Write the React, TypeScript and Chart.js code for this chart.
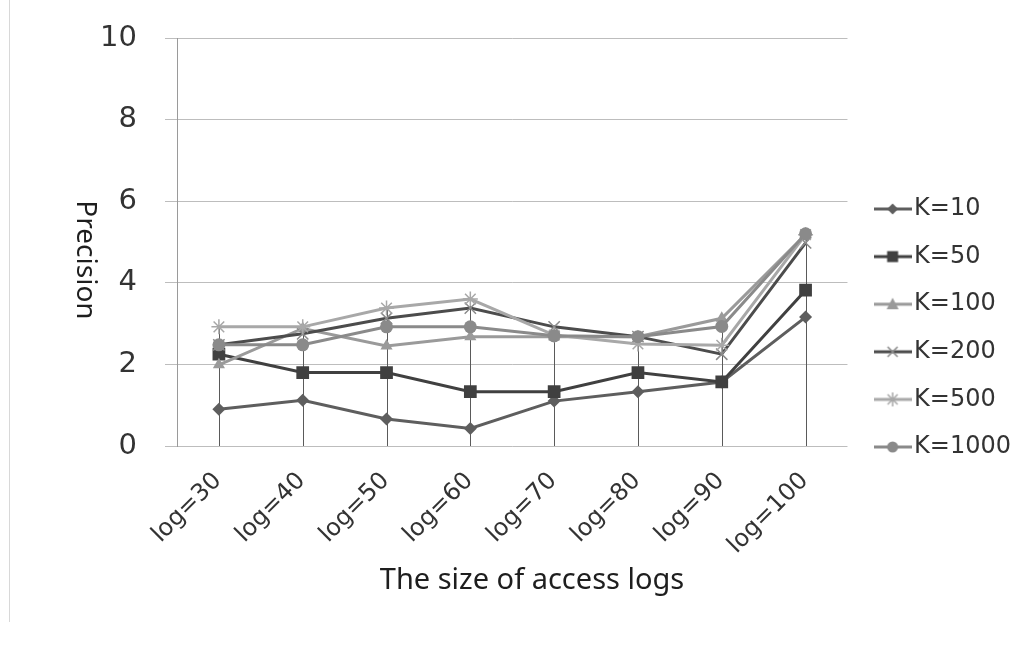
import React, { useEffect, useRef } from 'react';
import { Chart, registerables } from 'chart.js';

Chart.register(...registerables);

// ---- data ----
const categories = ['log=30', 'log=40', 'log=50', 'log=60', 'log=70', 'log=80', 'log=90', 'log=100'];
const seriesNames = ['K=10', 'K=50', 'K=100', 'K=200', 'K=500', 'K=1000'];
const k10 = [0.9, 1.12, 0.66, 0.43, 1.1, 1.33, 1.57, 3.16];
const k50 = [2.25, 1.8, 1.8, 1.33, 1.33, 1.8, 1.57, 3.82];
const k100 = [1.99, 2.88, 2.45, 2.68, 2.68, 2.68, 3.13, 5.18];
const k200 = [2.48, 2.75, 3.13, 3.38, 2.92, 2.68, 2.25, 4.98];
const k500 = [2.92, 2.92, 3.38, 3.6, 2.72, 2.5, 2.47, 5.18];
const k1000 = [2.48, 2.48, 2.92, 2.92, 2.7, 2.68, 2.93, 5.2];
const seriesValues = [k10, k50, k100, k200, k500, k1000];
const yMin = 0;
const yMax = 10;
const yStep = 2;

// ---- styles ----
const lineColors = ['#5e5e5e', '#404040', '#9a9a9a', '#4c4c4c', '#a8a8a8', '#8a8a8a'];
const markerColors = ['#5e5e5e', '#404040', '#9a9a9a', '#8a8a8a', '#a8a8a8', '#8a8a8a'];
const pointStyles = ['rectRot', 'rect', 'triangle', 'crossRot', 'star', 'circle'];
const pointRadii = [6.5, 9, 7, 8, 7.5, 6.5];

function makeLegendImage(i: number): HTMLCanvasElement {
  const c = document.createElement('canvas');
  c.width = 38;
  c.height = 18;
  const g = c.getContext('2d')!;
  const cx = 19;
  const cy = 9;
  g.strokeStyle = lineColors[i];
  g.lineWidth = 3;
  g.beginPath();
  g.moveTo(0, cy);
  g.lineTo(38, cy);
  g.stroke();
  g.fillStyle = markerColors[i];
  g.strokeStyle = markerColors[i];
  const s = pointStyles[i];
  g.beginPath();
  if (s === 'rectRot') {
    g.moveTo(cx, cy - 5.5);
    g.lineTo(cx + 5.5, cy);
    g.lineTo(cx, cy + 5.5);
    g.lineTo(cx - 5.5, cy);
    g.closePath();
    g.fill();
  } else if (s === 'rect') {
    g.rect(cx - 5.5, cy - 5.5, 11, 11);
    g.fill();
  } else if (s === 'triangle') {
    g.moveTo(cx, cy - 6.5);
    g.lineTo(cx + 6, cy + 5);
    g.lineTo(cx - 6, cy + 5);
    g.closePath();
    g.fill();
  } else if (s === 'crossRot') {
    g.lineWidth = 1.5;
    g.moveTo(cx - 5, cy - 5);
    g.lineTo(cx + 5, cy + 5);
    g.moveTo(cx + 5, cy - 5);
    g.lineTo(cx - 5, cy + 5);
    g.stroke();
  } else if (s === 'star') {
    g.lineWidth = 1.5;
    g.moveTo(cx - 5, cy - 5);
    g.lineTo(cx + 5, cy + 5);
    g.moveTo(cx + 5, cy - 5);
    g.lineTo(cx - 5, cy + 5);
    g.moveTo(cx, cy - 7);
    g.lineTo(cx, cy + 7);
    g.stroke();
  } else {
    g.arc(cx, cy, 5.5, 0, Math.PI * 2);
    g.fill();
  }
  return c;
}

const dropLines = {
  id: 'dropLines',
  beforeDatasetsDraw(chart: any) {
    const { ctx, scales } = chart;
    const x = scales.x;
    const y = scales.y;
    ctx.save();
    ctx.strokeStyle = '#5a5a5a';
    ctx.lineWidth = 1;
    categories.forEach((_, i) => {
      const top = Math.max(...chart.data.datasets.map((d: any) => d.data[i]));
      const px = Math.round(x.getPixelForValue(i)) + 0.5;
      ctx.beginPath();
      ctx.moveTo(px, y.getPixelForValue(0));
      ctx.lineTo(px, y.getPixelForValue(top));
      ctx.stroke();
    });
    ctx.restore();
  },
};

// rotated category labels, placed from the x scale
const slantedLabels = {
  id: 'slantedLabels',
  afterDraw(chart: any) {
    const { ctx, scales } = chart;
    const x = scales.x;
    ctx.save();
    ctx.fillStyle = '#333333';
    ctx.font = '24px "DejaVu Sans"';
    ctx.textAlign = 'right';
    ctx.textBaseline = 'middle';
    categories.forEach((label, i) => {
      const px = x.getPixelForValue(i);
      ctx.save();
      ctx.translate(px - 1, x.top + 31);
      ctx.rotate(-Math.PI / 4);
      ctx.fillText(label, 0, 0);
      ctx.restore();
    });
    ctx.restore();
  },
};

export default function App() {
  const ref = useRef<HTMLCanvasElement>(null);

  useEffect(() => {
    if (!ref.current) return;
    const legendImages = seriesNames.map((_, i) => makeLegendImage(i));
    const chart = new Chart(ref.current, {
      type: 'line',
      data: {
        labels: categories,
        datasets: seriesNames.map((name, i) => ({
          label: name,
          data: seriesValues[i],
          borderColor: lineColors[i],
          backgroundColor: markerColors[i],
          pointBackgroundColor: markerColors[i],
          pointBorderColor: markerColors[i],
          pointBorderWidth: pointStyles[i] === 'crossRot' || pointStyles[i] === 'star' ? 1.5 : 0,
          pointStyle: pointStyles[i] as any,
          pointRadius: pointRadii[i],
          borderWidth: 3,
          tension: 0,
          fill: false,
          order: seriesNames.length - i,
        })),
      },
      options: {
        animation: false,
        responsive: false,
        maintainAspectRatio: false,
        layout: { padding: { left: 0, right: -2, top: 4, bottom: 0 } },
        plugins: {
          tooltip: { enabled: false },
          legend: {
            position: 'right',
            labels: {
              usePointStyle: true,
              pointStyleWidth: 19,
              padding: 23.6,
              color: '#333333',
              font: { family: 'DejaVu Sans', size: 24 },
              generateLabels: (c: any) => {
                const items = (Chart.defaults.plugins.legend.labels as any).generateLabels(c);
                return items
                  .sort((a: any, b: any) => a.datasetIndex - b.datasetIndex)
                  .map((it: any) => ({ ...it, pointStyle: legendImages[it.datasetIndex], fontColor: '#333333' }));
              },
            },
          },
        },
        scales: {
          x: {
            type: 'category',
            offset: true,
            grid: { display: false, drawTicks: false },
            border: { display: false },
            ticks: { display: false },
            afterFit: (s: any) => {
              s.height = 206;
              s.paddingLeft = 0;
              s.paddingRight = 0;
            },
          },
          y: {
            min: yMin,
            max: yMax,
            ticks: {
              stepSize: yStep,
              padding: 28,
              color: '#333333',
              font: { family: 'DejaVu Sans', size: 29 },
            },
            grid: { color: '#bdbdbd', lineWidth: 1, tickLength: 12, drawTicks: true },
            border: { display: true, color: '#9a9a9a', width: 1 },
            afterFit: (s: any) => {
              s.width = 177;
              s.paddingTop = 0;
              s.paddingBottom = 0;
            },
          },
          yRight: {
            type: 'linear',
            position: 'right',
            grid: { display: false, drawTicks: false },
            border: { display: false },
            ticks: { display: false },
            afterFit: (s: any) => {
              s.width = 12;
            },
          },
          xTop: {
            type: 'linear',
            position: 'top',
            grid: { display: false, drawTicks: false },
            border: { display: false },
            ticks: { display: false },
            afterFit: (s: any) => {
              s.height = 34;
            },
          },
        } as any,
      },
      plugins: [dropLines, slantedLabels],
    });
    return () => chart.destroy();
  }, []);

  return (
    <div style={{ position: 'fixed', left: 0, top: 0, width: 1019, height: 652, background: '#ffffff', overflow: 'hidden' }}>
      <div style={{ position: 'absolute', left: 9, top: 0, width: 1, height: 622, background: '#d8d8d8' }} />
      <canvas ref={ref} width={1019} height={652} style={{ position: 'absolute', left: 0, top: 0, width: 1019, height: 652 }} />
      <div
        style={{
          position: 'absolute',
          left: 88,
          top: 260,
          transform: 'translate(-50%, -50%)',
          writingMode: 'vertical-rl',
          fontFamily: '"Noto Sans", sans-serif',
          fontSize: 28,
          lineHeight: 1,
          color: '#1e1e1e',
          whiteSpace: 'nowrap',
        }}
      >
        Precision
      </div>
      <div
        style={{
          position: 'absolute',
          left: 532,
          top: 563,
          transform: 'translateX(-50%)',
          fontFamily: '"Noto Sans", sans-serif',
          fontSize: 29,
          lineHeight: 1,
          color: '#1e1e1e',
          whiteSpace: 'nowrap',
        }}
      >
        The size of access logs
      </div>
    </div>
  );
}
